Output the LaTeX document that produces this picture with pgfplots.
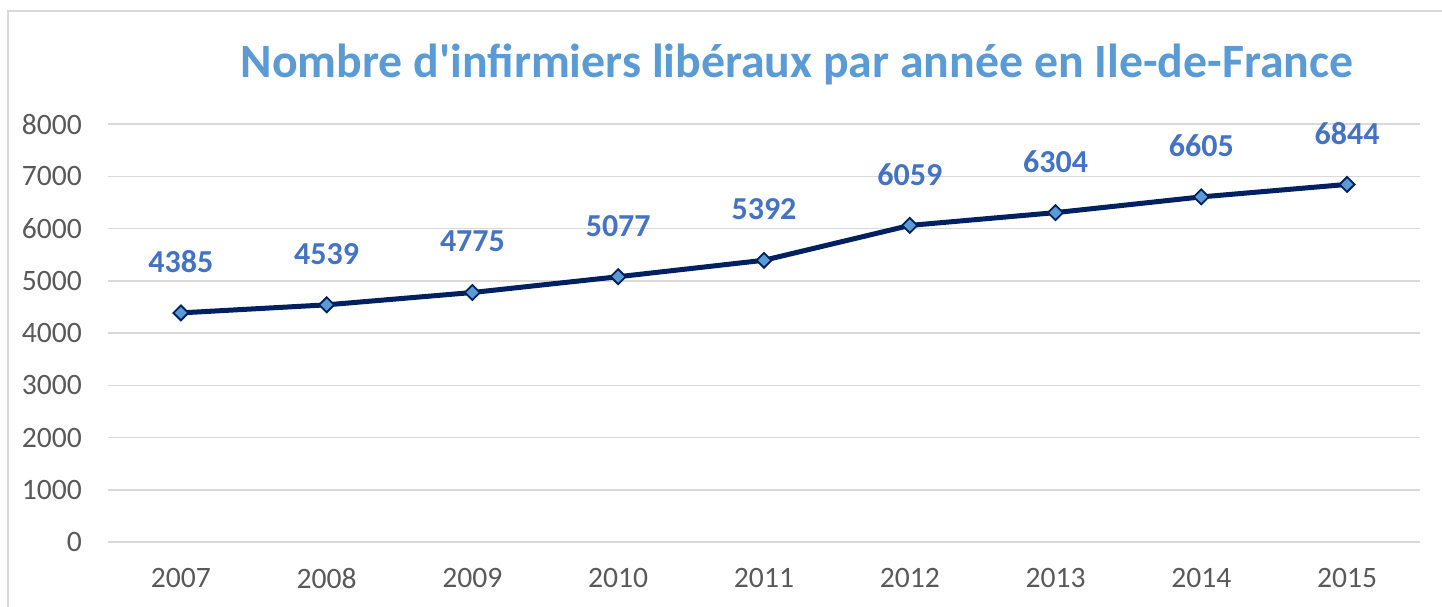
\documentclass[border=0pt]{standalone}
\usepackage{pgfplots}
\pgfplotsset{compat=1.18}
\usepackage{fontspec}
\setmainfont{Carlito}
\definecolor{titleblue}{HTML}{5B9BD5}
\definecolor{labblue}{HTML}{4472C4}
\definecolor{navy}{HTML}{002060}
\definecolor{gridgray}{HTML}{D9D9D9}
\definecolor{ticktext}{HTML}{595959}
\begin{document}
\begin{tikzpicture}
\path[use as bounding box] (0,0) rectangle (721pt,303pt);
\draw[gridgray, line width=1pt] (4pt,-5pt) -- (4pt,297.5pt) -- (730pt,297.5pt);
\node[font=\bfseries\fontsize{23.9}{28}\selectfont, text=titleblue] at (398.5pt,271pt) {Nombre d\textquotesingle infirmiers libéraux par année en Ile-de-France};
\begin{axis}[
  at={(54pt,32pt)}, anchor=south west,
  scale only axis, width=656pt, height=209pt,
  xmin=-0.5, xmax=8.5, ymin=0, ymax=8000,
  xtick={0,...,8},
  xticklabels={2007,2008,2009,2010,2011,2012,2013,2014,2015},
  ytick={0,1000,...,8000},
  axis line style={draw=none},
  axis x line*=bottom,
  ymajorgrids, grid style={gridgray, line width=0.75pt},
  major tick length=0pt,
  tick label style={font=\fontsize{14.8}{17}\selectfont, text=ticktext},
  /pgf/number format/assume math mode=true,
  /pgf/number format/1000 sep={},
  yticklabel style={xshift=-9.5pt},
  xticklabel style={yshift=-9.5pt},
  clip=false,
  nodes near coords,
  every node near coord/.append style={font=\bfseries\fontsize{16}{19}\selectfont, text=labblue, anchor=center, yshift=25.5pt},
]
\draw[gridgray, line width=0.75pt] (axis cs:-0.5,0) -- (axis cs:8.5,0);
\addplot[navy, line width=2.5pt, mark=square*, mark size=2.65pt,
  mark options={rotate=45, fill=titleblue, draw=navy, line width=0.9pt}]
  coordinates {(0,4385) (1,4539) (2,4775) (3,5077) (4,5392) (5,6059) (6,6304) (7,6605) (8,6844)};
\end{axis}
\end{tikzpicture}
\end{document}
